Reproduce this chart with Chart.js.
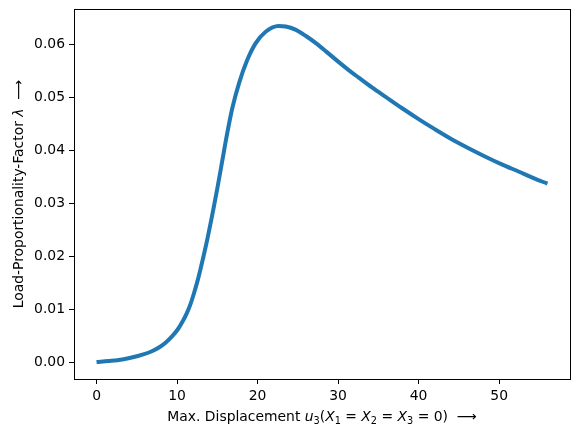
<!DOCTYPE html>
<html>
<head>
<meta charset="utf-8">
<script src="https://cdn.jsdelivr.net/npm/chart.js@4.4.1/dist/chart.umd.min.js"></script>
<style>
  html, body { margin: 0; padding: 0; background: #fff; }
  canvas { display: block; }
</style>
</head>
<body>
<canvas id="chart" width="580" height="436"></canvas>
<script>
// Data
var displacement = [0, 1.5, 3.2, 4.5, 5.7, 6.8, 7.8, 8.6, 9.4, 10.1, 10.7, 11.2, 11.7, 12.1, 12.5, 12.9,
  13.35, 13.8, 14.2, 14.6, 15, 15.6, 16.2, 16.85, 17.7, 18.7, 19.75, 21, 22.6, 23.5, 24.7, 26, 27.2,
  28.5, 29.9, 31.2, 32.6, 34.2, 35.9, 38, 40, 42, 44.1, 46.2, 48.3, 50.4, 52.4, 54.2, 56];
var loadFactor = [0, 0.0002, 0.0005, 0.0009, 0.0014, 0.002, 0.0028, 0.0037, 0.0049, 0.0062, 0.0077,
  0.0092, 0.0111, 0.013, 0.0151, 0.0175, 0.0204, 0.0235, 0.0265, 0.0296, 0.0328, 0.0379, 0.043,
  0.0479, 0.0527, 0.057, 0.0602, 0.0624, 0.0635, 0.0634, 0.0628, 0.0616, 0.0603, 0.0587, 0.0569,
  0.0553, 0.0537, 0.0519, 0.0501, 0.0479, 0.0459, 0.044, 0.0421, 0.0404, 0.0388, 0.0373, 0.036,
  0.0348, 0.0337];
var xTicks = [0, 10, 20, 30, 40, 50];
var yTicks = [0, 0.01, 0.02, 0.03, 0.04, 0.05, 0.06];

var FONT = "DejaVu Sans";
var FS = 13.9;

// draws text in pieces: normal, italic and subscript
function drawRich(ctx, parts, x, y, align) {
  var widths = parts.map(function (p) {
    ctx.font = (p.it ? "italic " : "") + (p.sub ? FS * 0.7 : FS) + "px " + FONT;
    return ctx.measureText(p.t).width;
  });
  var total = widths.reduce(function (a, b) { return a + b; }, 0);
  var cx = align === "center" ? x - total / 2 : x;
  ctx.textBaseline = "alphabetic";
  ctx.textAlign = "left";
  parts.forEach(function (p, i) {
    ctx.font = (p.it ? "italic " : "") + (p.sub ? FS * 0.7 : FS) + "px " + FONT;
    ctx.fillText(p.t, cx, p.sub ? y + 3 : y);
    cx += widths[i];
  });
}

var xTitle = [
  { t: "Max. Displacement " }, { t: "u", it: true }, { t: "3", sub: true }, { t: "(" },
  { t: "X", it: true }, { t: "1", sub: true }, { t: " = " },
  { t: "X", it: true }, { t: "2", sub: true }, { t: " = " },
  { t: "X", it: true }, { t: "3", sub: true }, { t: " = 0)  \u27F6" }
];
var yTitle = [{ t: "Load-Proportionality-Factor " }, { t: "\u03BB", it: true }, { t: "  \u27F6" }];

var framePlugin = {
  id: "frame",
  afterDraw: function (chart) {
    var ctx = chart.ctx, a = chart.chartArea;
    ctx.save();
    ctx.strokeStyle = "#000";
    ctx.lineWidth = 1;
    ctx.strokeRect(Math.round(a.left) + 0.5, Math.round(a.top) + 0.5,
      Math.round(a.right - a.left), Math.round(a.bottom - a.top));
    ctx.fillStyle = "#000";
    drawRich(ctx, xTitle, (a.left + a.right) / 2, 421, "center");
    ctx.translate(23, (a.top + a.bottom) / 2);
    ctx.rotate(-Math.PI / 2);
    drawRich(ctx, yTitle, 0, 0, "center");
    ctx.restore();
  }
};

function noPad(s) {
  s.paddingTop = 0; s.paddingBottom = 0; s.paddingLeft = 0; s.paddingRight = 0;
}

var axisStyle = {
  border: { display: false },
  grid: { drawOnChartArea: false, tickLength: 5, tickColor: "#000", tickWidth: 1 },
  ticks: { color: "#000", padding: 4, font: { family: FONT, size: FS } }
};

new Chart(document.getElementById("chart").getContext("2d"), {
  type: "scatter",
  data: {
    datasets: [{
      data: displacement.map(function (x, i) { return { x: x, y: loadFactor[i] }; }),
      showLine: true,
      borderColor: "#1f77b4",
      borderWidth: 4,
      pointRadius: 0,
      cubicInterpolationMode: "monotone",
      borderCapStyle: "butt"
    }]
  },
  options: {
    responsive: false,
    animation: false,
    layout: { padding: { top: 9, right: 10, left: 0, bottom: 0 } },
    plugins: { legend: { display: false }, tooltip: { enabled: false } },
    scales: {
      x: Object.assign({}, axisStyle, {
        type: "linear",
        min: -2.8,
        max: 58.8,
        ticks: Object.assign({}, axisStyle.ticks, { callback: function (v) { return String(v); } }),
        afterBuildTicks: function (s) { s.ticks = xTicks.map(function (v) { return { value: v }; }); },
        afterFit: function (s) { s.height = 57; noPad(s); }
      }),
      y: Object.assign({}, axisStyle, {
        type: "linear",
        min: -0.0032,
        max: 0.0667,
        ticks: Object.assign({}, axisStyle.ticks, { callback: function (v) { return v.toFixed(2); } }),
        afterBuildTicks: function (s) { s.ticks = yTicks.map(function (v) { return { value: v }; }); },
        afterFit: function (s) { s.width = 74; noPad(s); }
      })
    }
  },
  plugins: [framePlugin]
});
</script>
</body>
</html>
